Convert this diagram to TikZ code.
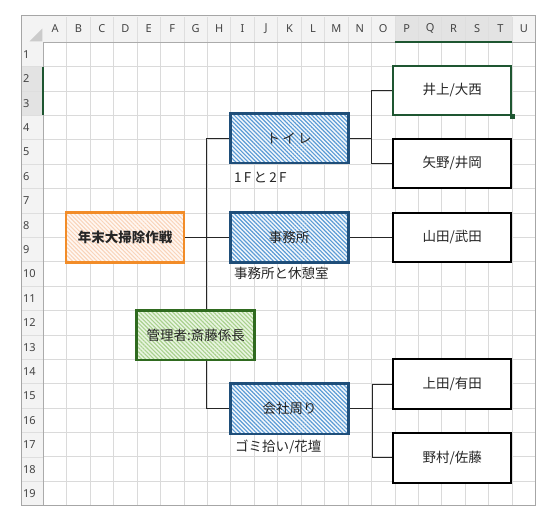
\documentclass[tikz,border=0pt]{standalone}
\usepackage{fontspec}
\setmainfont{Noto Sans CJK JP}
\newfontfamily\hdrfont{Noto Sans}
\usetikzlibrary{patterns.meta}
\pgfdeclarelayer{sheet}
\pgfdeclarelayer{conns}
\pgfsetlayers{sheet,conns,main}
\definecolor{gridc}{HTML}{DADADA}
\definecolor{hdrbg}{HTML}{F3F3F3}
\definecolor{hdrsel}{HTML}{E3E3E3}
\definecolor{hdrsep}{HTML}{DEDEDE}
\definecolor{hdrline}{HTML}{ABABAB}
\definecolor{framec}{HTML}{A6A6A6}
\definecolor{hdrtxt}{HTML}{444444}
\definecolor{selg}{HTML}{1E5631}
\definecolor{blueB}{HTML}{1F4E79}
\definecolor{blueP}{HTML}{5B9BD5}
\definecolor{blueF}{HTML}{F4F8FC}
\definecolor{orangeB}{HTML}{F28C28}
\definecolor{orangeP}{HTML}{F9D3B8}
\definecolor{orangeF}{HTML}{FFF7F2}
\definecolor{greenB}{HTML}{2F6A1F}
\definecolor{greenP}{HTML}{A9D18E}
\definecolor{greenF}{HTML}{E9F5E1}
\definecolor{txt}{HTML}{262626}
\begin{document}
\begin{tikzpicture}[x=1pt,y=-1pt,
  gridline/.style={draw=gridc,line width=0.9pt},
  hdrlabel/.style={font=\hdrfont\fontsize{11}{13}\selectfont,text=hdrtxt,inner sep=0pt},
  box/.style={draw,line width=2pt,minimum width=118pt,minimum height=49.5pt,inner sep=0pt,
    font=\fontsize{13.5}{16}\selectfont,text=txt},
  bluebox/.style={box,draw=blueB,line width=2.6pt,preaction={fill=blueF},
    pattern={Lines[angle=-45,distance=2.9pt,line width=1.15pt]},pattern color=blueP},
  orangebox/.style={box,draw=orangeB,line width=2.6pt,preaction={fill=orangeF},
    pattern={Lines[angle=-45,distance=2.9pt,line width=1pt]},pattern color=orangeP},
  greenbox/.style={box,draw=greenB,line width=2.6pt,preaction={fill=greenF},
    pattern={Lines[angle=-45,distance=2.9pt,line width=1.1pt]},pattern color=greenP},
  whitebox/.style={box,draw=black,fill=white},
  note/.style={font=\fontsize{13.5}{16}\selectfont,text=txt,inner sep=0pt,anchor=west},
  conn/.style={draw=black!85,line width=0.9pt}]
\useasboundingbox (0,0) rectangle (551,525);
\def\cw{23.445}
\def\rh{24.39}
\begin{pgfonlayer}{sheet}
\fill[white] (0,0) rectangle (551,525);
% ---------- grid ----------
\foreach \i in {1,...,20} \draw[gridline] ({43.3+\cw*\i},42.3) -- ({43.3+\cw*\i},505.7);
\foreach \j in {1,...,18} \draw[gridline] (43.3,{42.3+\rh*\j}) -- (535.7,{42.3+\rh*\j});
% headers
\fill[hdrbg] (21,15) rectangle (535.7,42.3);
\fill[hdrbg] (21,42.3) rectangle (43.3,505.7);
\fill[hdrsel] ({43.3+15*\cw},15) rectangle ({43.3+20*\cw},42.3);
\fill[hdrsel] (21,{42.3+\rh}) rectangle (43.3,{42.3+3*\rh});
\foreach \i in {1,...,20} \draw[hdrsep,line width=0.8pt] ({43.3+\cw*\i},17) -- ({43.3+\cw*\i},42.3);
\foreach \j in {1,...,18} \draw[hdrsep,line width=0.8pt] (21,{42.3+\rh*\j}) -- (43.3,{42.3+\rh*\j});
\fill[hdrsep!80!gray] (29.5,41.3) -- (42.3,28.5) -- (42.3,41.3) -- cycle;
\draw[hdrline,line width=1.2pt] (43.3,42.3) -- (535.7,42.3);
\draw[hdrline,line width=1.2pt] (43.3,42.3) -- (43.3,505.7);
\draw[selg,line width=2pt] ({43.3+15*\cw},41.6) -- ({43.3+20*\cw},41.6);
\draw[selg,line width=2pt] (43.3,{42.3+\rh}) -- (43.3,{42.3+3*\rh});
\foreach \l [count=\k from 0] in {A,B,C,D,E,F,G,H,I,J,K,L,M,N,O,P,Q,R,S,T,U}
  \node[hdrlabel] (col\l) at ({43.3+\cw*(\k+0.5)},28.5) {\l};
\foreach \n in {1,...,19}
  \node[hdrlabel,anchor=west] (row\n) at (23,{42.3+\rh*(\n-0.5)}) {\n};
\draw[framec,line width=1pt] (21,15) rectangle (535.7,505.7);
\end{pgfonlayer}
% ---------- shapes ----------
\node[orangebox,font=\fontsize{13.5}{16}\selectfont\bfseries] (goal) at (125,237.5) {年末大掃除作戦};
\node[bluebox] (toilet) at (289.2,138.4) {ト\,イ\,レ};
\node[bluebox] (office) at (289.2,237.5) {事務所};
\node[bluebox,minimum height=50.5pt] (around) at (289.5,408.8) {会社周り};
\node[greenbox] (manager) at (195.7,335.3) {管理者:斎藤係長};
\node[whitebox,draw=selg] (inoue) at (452.2,90.5) {井上/大西};
\node[whitebox] (yano) at (452.2,163.5) {矢野/井岡};
\node[whitebox] (yamada) at (452.2,237.5) {山田/武田};
\node[whitebox] (ueda) at (452.2,384) {上田/有田};
\node[whitebox] (nomura) at (452.2,457.8) {野村/佐藤};
\fill[selg] ([xshift=-2.5pt,yshift=-2.5pt]inoue.south east) rectangle ([xshift=2.5pt,yshift=2.5pt]inoue.south east);
% labels
\node[note] (lbl1) at (234,177.3) {1\,F\,と\,2\,F};
\node[note] (lbl2) at (234,273.3) {事務所と休憩室};
\node[note] (lbl3) at (235,446.7) {ゴミ拾い/花壇};
% ---------- connectors ----------
\begin{pgfonlayer}{conns}
\draw[conn] (toilet.west) -- ++(-23,0) coordinate (trunk) |- (around.west);
\draw[conn] (goal.east) -- (office.west);
\draw[conn] (toilet.east) -- ++(22.5,0) coordinate (tj);
\draw[conn] (inoue.west) -| (tj) |- (yano.west);
\draw[conn] (office.east) -- (yamada.west);
\draw[conn] (around.east) -- ++(22.3,0) coordinate (aj);
\draw[conn] (ueda.west) -| (aj) |- (nomura.west);
\end{pgfonlayer}
\end{tikzpicture}
\end{document}
